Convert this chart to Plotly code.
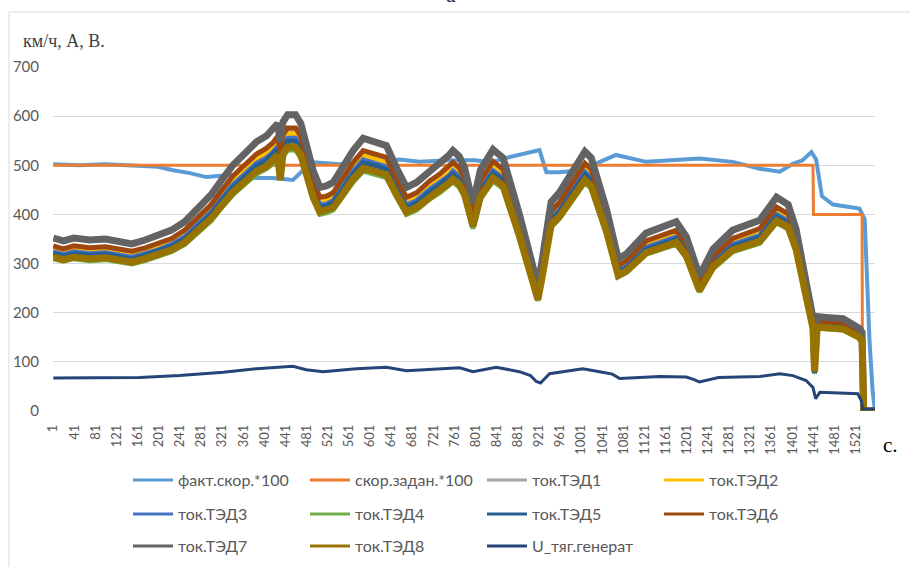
import plotly.graph_objects as go

# ---------------- data ----------------
T_TED = [1, 20, 40, 70, 100, 130, 150, 175, 200, 225,
         250, 272, 300, 320, 341, 360, 386, 405, 417, 426,
         431, 436, 445, 460, 470, 480, 493, 506, 518, 531,
         544, 569, 588, 613, 632, 651, 670, 689, 714, 733,
         750, 758, 770, 780, 796, 810, 834, 853, 884, 905,
         919, 926, 944, 960, 985, 1008, 1020, 1030, 1049, 1071,
         1087, 1124, 1150, 1181, 1200, 1225, 1251, 1288, 1339, 1371,
         1393, 1408, 1427, 1440, 1443, 1448, 1470, 1497, 1528, 1533,
         1536, 1557]

TED1 = [331, 325, 331, 327, 329, 322, 320, 327, 336, 346,
        362, 385, 414, 442, 470, 489, 515, 526, 538, 550,
        510, 553, 567, 567, 550, 512, 461, 428, 431, 437,
        458, 498, 522, 515, 508, 465, 428, 437, 461, 475,
        489, 498, 487, 465, 397, 461, 500, 484, 376, 301,
        240, 282, 400, 418, 461, 496, 484, 449, 385, 291,
        301, 340, 350, 362, 334, 259, 310, 346, 365, 409,
        395, 348, 246, 179, 82, 180, 179, 177, 158, 150,
        0, 0]

TED2 = [329, 324, 329, 325, 327, 321, 318, 325, 334, 344,
        360, 383, 411, 440, 468, 486, 512, 524, 535, 547,
        505, 550, 564, 564, 547, 510, 458, 425, 428, 435,
        455, 496, 519, 512, 505, 463, 425, 435, 458, 472,
        486, 496, 484, 463, 395, 458, 497, 482, 374, 299,
        238, 281, 397, 416, 458, 494, 482, 447, 383, 290,
        299, 339, 348, 360, 332, 257, 309, 344, 363, 407,
        393, 346, 245, 178, 80, 180, 178, 176, 157, 150,
        0, 0]

TED3 = [324, 318, 324, 320, 322, 316, 313, 320, 328, 339,
        354, 377, 405, 432, 460, 478, 504, 515, 526, 538,
        495, 541, 555, 555, 538, 501, 451, 419, 421, 428,
        448, 488, 511, 504, 497, 455, 419, 428, 451, 465,
        478, 488, 477, 455, 388, 451, 489, 474, 368, 294,
        235, 276, 391, 409, 451, 486, 474, 440, 377, 285,
        294, 333, 342, 354, 327, 253, 304, 339, 357, 400,
        386, 340, 241, 175, 78, 177, 175, 173, 155, 147,
        0, 0]

TED4 = [310, 305, 310, 306, 308, 302, 299, 306, 314, 324,
        339, 361, 387, 414, 440, 458, 482, 493, 503, 515,
        472, 517, 531, 531, 515, 480, 431, 400, 403, 409,
        429, 466, 488, 482, 475, 436, 400, 409, 431, 444,
        458, 466, 456, 436, 371, 431, 468, 453, 352, 282,
        224, 264, 374, 392, 431, 465, 453, 421, 361, 273,
        282, 319, 327, 339, 312, 242, 290, 324, 341, 383,
        370, 326, 231, 167, 76, 169, 167, 165, 148, 141,
        0, 0]

TED5 = [320, 315, 320, 317, 319, 312, 309, 317, 325, 335,
        350, 373, 400, 428, 455, 473, 499, 510, 521, 532,
        490, 535, 549, 549, 532, 496, 446, 414, 417, 423,
        443, 482, 505, 499, 491, 451, 414, 423, 446, 460,
        473, 482, 471, 451, 384, 446, 484, 469, 364, 291,
        232, 273, 387, 405, 446, 481, 469, 435, 373, 282,
        291, 329, 339, 350, 323, 250, 300, 335, 353, 396,
        382, 337, 238, 173, 77, 175, 173, 171, 153, 146,
        0, 0]

TED6 = [336, 330, 336, 332, 334, 328, 325, 332, 341, 351,
        368, 392, 420, 449, 478, 497, 523, 535, 546, 559,
        525, 562, 576, 576, 559, 520, 468, 435, 437, 444,
        465, 506, 530, 523, 516, 473, 435, 444, 468, 482,
        497, 506, 495, 473, 403, 468, 508, 492, 382, 306,
        244, 287, 406, 425, 468, 504, 492, 456, 392, 296,
        306, 346, 355, 368, 339, 263, 315, 351, 371, 415,
        401, 353, 250, 181, 85, 183, 181, 180, 160, 153,
        0, 0]

TED7 = [352, 346, 352, 348, 350, 343, 340, 348, 357, 368,
        385, 410, 440, 470, 500, 520, 548, 560, 572, 585,
        548, 588, 603, 603, 585, 545, 490, 455, 458, 465,
        487, 530, 555, 548, 540, 495, 455, 465, 490, 505,
        520, 530, 518, 495, 422, 490, 532, 515, 400, 320,
        255, 300, 425, 445, 490, 528, 515, 478, 410, 310,
        320, 362, 372, 385, 355, 275, 330, 368, 388, 435,
        420, 370, 262, 190, 92, 192, 190, 188, 168, 160,
        0, 0]

TED8 = [313, 308, 313, 310, 312, 305, 303, 310, 318, 328,
        343, 365, 392, 418, 445, 463, 488, 498, 509, 521,
        470, 523, 537, 537, 521, 485, 436, 405, 408, 414,
        433, 472, 494, 488, 481, 441, 405, 414, 436, 450,
        463, 472, 461, 441, 376, 436, 474, 458, 356, 285,
        227, 267, 378, 396, 436, 470, 458, 425, 365, 276,
        285, 322, 331, 343, 316, 245, 294, 328, 345, 387,
        374, 329, 233, 169, 80, 171, 169, 167, 150, 142,
        0, 0]

T_SPD = [1, 50, 100, 150, 200, 228, 260, 291, 335, 386,
         417, 455, 474, 493, 544, 600, 657, 695, 750, 800,
         830, 870, 905, 922, 935, 960, 1000, 1036, 1067, 1124,
         1225, 1288, 1339, 1377, 1402, 1420, 1437, 1446, 1453, 1457,
         1478, 1528, 1538, 1547, 1553, 1557]
SPD = [502, 500, 502, 500, 497, 490, 484, 476, 480, 474,
       474, 470, 490, 506, 502, 507, 512, 507, 510, 510,
       506, 518, 526, 531, 486, 486, 490, 507, 521, 507,
       514, 507, 493, 487, 503, 510, 527, 512, 458, 437,
       420, 412, 390, 145, 40, 5]

T_SET = [1, 1440, 1441, 1533, 1534, 1557]
SET = [500, 500, 400, 400, 0, 0]

T_U = [1, 100, 165, 240, 323, 386, 430, 455, 480, 512,
       575, 632, 670, 733, 771, 796, 840, 884, 905, 916,
       924, 941, 1004, 1036, 1060, 1074, 1150, 1200, 1215, 1225,
       1261, 1339, 1377, 1402, 1427, 1440, 1445, 1453, 1497, 1525,
       1532, 1534, 1557]
U = [67, 67, 68, 72, 79, 86, 89, 91, 84, 80,
     86, 89, 82, 86, 88, 80, 89, 80, 72, 60,
     57, 76, 86, 80, 75, 66, 70, 69, 64, 59,
     68, 70, 76, 72, 62, 48, 25, 38, 37, 35,
     20, 4, 4]

X_TICKS = [1, 41, 81, 121, 161, 201, 241, 281, 321, 361, 401, 441, 481,
           521, 561, 601, 641, 681, 721, 761, 801, 841, 881, 921, 961,
           1001, 1041, 1081, 1121, 1161, 1201, 1241, 1281, 1321, 1361,
           1401, 1441, 1481, 1521]
Y_TICKS = [0, 100, 200, 300, 400, 500, 600, 700]
N_POINTS = 1557

NAMES = ["факт.скор.*100", "скор.задан.*100", "ток.ТЭД1", "ток.ТЭД2",
         "ток.ТЭД3", "ток.ТЭД4", "ток.ТЭД5", "ток.ТЭД6",
         "ток.ТЭД7", "ток.ТЭД8", "U_тяг.генерат"]
COLORS = ["#5B9BD5", "#ED7D31", "#A5A5A5", "#FFC000", "#4472C4", "#70AD47",
          "#255E91", "#9E480E", "#636363", "#997300", "#264478"]
WIDTHS = [4, 3, 5, 5, 5, 5, 5, 5, 7, 7, 3]
LEGEND_ROW = ["legend", "legend", "legend", "legend",
              "legend2", "legend2", "legend2", "legend2",
              "legend3", "legend3", "legend3"]

series = [(T_SPD, SPD), (T_SET, SET), (T_TED, TED1), (T_TED, TED2),
          (T_TED, TED3), (T_TED, TED4), (T_TED, TED5), (T_TED, TED6),
          (T_TED, TED7), (T_TED, TED8), (T_U, U)]

# ---------------- figure ----------------
W, H = 910, 567
ML, MR, MT, MB = 53, 35, 67, 156
PW, PH = W - ML - MR, H - MT - MB


def px_x(px):
    return (px - ML) / PW


def px_y(py):
    return (H - MB - py) / PH


fig = go.Figure()
for i, (tx, vy) in enumerate(series):
    fig.add_trace(go.Scatter(
        x=tx, y=vy, mode="lines", name=NAMES[i], legendgroup=NAMES[i],
        showlegend=False, line=dict(color=COLORS[i], width=WIDTHS[i]),
        hoverinfo="skip"))
# legend entries (thin sample lines like the original)
for i in range(len(NAMES)):
    fig.add_trace(go.Scatter(
        x=[None], y=[None], mode="lines", name=NAMES[i], legendgroup=NAMES[i],
        legend=LEGEND_ROW[i], showlegend=True,
        line=dict(color=COLORS[i], width=3)))

legend_common = dict(orientation="h", xanchor="left", yanchor="middle",
                     entrywidth=122, entrywidthmode="pixels",
                     bgcolor="rgba(0,0,0,0)", itemwidth=40,
                     font=dict(family="Lato", size=16, color="#595959"))

fig.update_layout(
    width=W, height=H,
    margin=dict(l=ML, r=MR, t=MT, b=MB, autoexpand=False),
    paper_bgcolor="white", plot_bgcolor="white",
    hovermode=False,
    legend=dict(x=px_x(128), y=px_y(480), **legend_common),
    legend2=dict(x=px_x(128), y=px_y(514), **legend_common),
    legend3=dict(x=px_x(128), y=px_y(546), **legend_common),
    xaxis=dict(range=[0.5, N_POINTS + 0.5], tickmode="array",
               tickvals=X_TICKS, ticktext=[str(v) for v in X_TICKS],
               tickangle=-90, showgrid=False, zeroline=False,
               showline=False, ticks="", ticklabelstandoff=10,
               tickfont=dict(family="Lato", size=13, color="#595959")),
    yaxis=dict(range=[0, 700], tickmode="array", tickvals=Y_TICKS,
               showgrid=True, gridcolor="#D9D9D9", gridwidth=1,
               zeroline=False, showline=False, ticks="",
               ticklabelstandoff=13,
               tickfont=dict(family="Lato", size=15, color="#595959")),
    shapes=[dict(type="rect", xref="paper", yref="paper",
                 x0=px_x(9), x1=px_x(930), y0=px_y(600), y1=px_y(12),
                 line=dict(color="#D9D9D9", width=1),
                 fillcolor="rgba(0,0,0,0)", layer="below")],
    annotations=[
        dict(text="км/ч, А, В.", xref="paper", yref="paper",
             x=px_x(21), y=px_y(41), xanchor="left", yanchor="middle",
             showarrow=False,
             font=dict(family="Liberation Serif", size=18, color="#404040")),
        dict(text="с.", xref="paper", yref="paper",
             x=px_x(881), y=px_y(445), xanchor="left", yanchor="middle",
             showarrow=False,
             font=dict(family="Liberation Serif", size=21, color="#000000")),
        dict(text="а", xref="paper", yref="paper",
             x=px_x(451), y=px_y(9), xanchor="center", yanchor="bottom",
             showarrow=False,
             font=dict(family="Liberation Serif", size=22, color="#1F2F4F")),
    ],
)

fig.write_html("out.html", config={"displayModeBar": False})
